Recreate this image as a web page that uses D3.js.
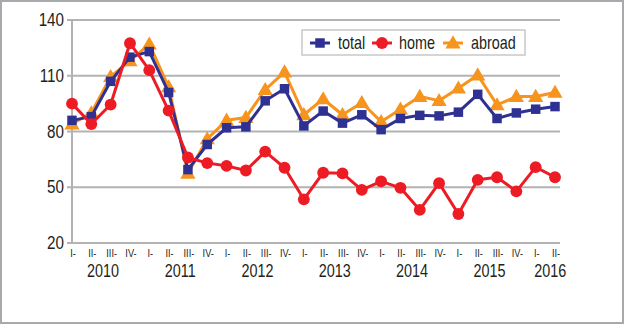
<!DOCTYPE html>
<html>
<head>
<meta charset="utf-8">
<script src="https://cdn.jsdelivr.net/npm/d3@7"></script>
<style>
  html, body { margin: 0; padding: 0; background: #fff; }
  svg { display: block; }
  text { font-family: "Liberation Sans", Arial, sans-serif; fill: #231f20; }
</style>
</head>
<body>
<svg id="chart" width="625" height="325"></svg>
<script>
// Quarterly index, 2010 Q1 – 2016 Q2
const quarters = ["I-","II-","III-","IV-","I-","II-","III-","IV-","I-","II-","III-","IV-","I-","II-","III-","IV-","I-","II-","III-","IV-","I-","II-","III-","IV-","I-","II-"];
const years = ["2010","2011","2012","2013","2014","2015","2016"];
const yTicks = [20, 50, 80, 110, 140];

const total  = [86, 88, 107, 120, 123, 101, 59.5, 73, 82, 82.5, 96.5, 103, 83, 91, 84.5, 89, 81, 87, 88.7, 88.4, 90.4, 100, 87, 90, 92, 93.4];
const home   = [95, 84, 94.5, 127.5, 113, 91.2, 66, 63, 61.5, 59, 69.2, 60.5, 43.5, 57.8, 57.5, 48.6, 53.2, 49.7, 37.8, 52.2, 35.6, 54, 55.4, 47.8, 60.8, 55.4];
const abroad = [84, 90, 109.5, 118, 127, 104, 57.5, 76, 86, 87.5, 102.5, 112, 89, 97.5, 89, 95.5, 85.3, 92, 98.8, 96.6, 103.3, 110.4, 94.3, 98.8, 98.8, 101];

const seriesNames = ["total", "home", "abroad"];
const seriesData = [total, home, abroad];
const colors = ["#2e3192", "#ed1c24", "#f7941d"];
const markers = [d3.symbolSquare, d3.symbolCircle, d3.symbolTriangle];
const markerSizes = [90, 110, 100];

const svg = d3.select("#chart");

// condensed text: horizontally squeezed glyphs
const SQ = 0.8;
function label(parent, tx, ty, str, size, anchor) {
  return parent.append("text")
    .attr("transform", `translate(${tx},${ty}) scale(${SQ},1)`)
    .attr("text-anchor", anchor || "start")
    .attr("font-size", size)
    .text(str);
}

// outer frame
svg.append("rect")
  .attr("x", 1).attr("y", 1).attr("width", 622).attr("height", 322)
  .attr("fill", "none").attr("stroke", "#a7a9ac").attr("stroke-width", 2);

const x = d3.scalePoint().domain(d3.range(quarters.length)).range([72, 555]);
const y = d3.scaleLinear().domain([20, 140]).range([243, 20]);
const xEnd = 560;

// horizontal gridlines
svg.append("g").selectAll("line").data(yTicks).join("line")
  .attr("x1", 67).attr("x2", xEnd)
  .attr("y1", d => y(d)).attr("y2", d => y(d))
  .attr("stroke", "#b3b3b3").attr("stroke-width", 2);

// y axis line
svg.append("line")
  .attr("x1", 72).attr("x2", 72).attr("y1", y(140)).attr("y2", y(20))
  .attr("stroke", "#b3b3b3").attr("stroke-width", 2);

// y tick labels
const gy = svg.append("g");
yTicks.forEach(t => label(gy, 64, y(t) + 6, t, 19, "end"));

// quarter labels
const gq = svg.append("g");
quarters.forEach((q, i) => label(gq, x(i) + 1, 257, q, 11.5, "middle"));

// year labels, centred under quarters II/III of each year
const gyr = svg.append("g");
years.forEach((yr, i) => {
  const start = i * 4;
  const cx = start + 3 < quarters.length
    ? (x(start + 1) + x(start + 2)) / 2 + 2
    : (x(start) + x(start + 1)) / 2 + 5;
  label(gyr, cx, 277, yr, 18, "middle");
});

const line = d3.line().x((d, i) => x(i)).y(d => y(d));

// draw order: abroad, total, home (home on top)
const order = [2, 0, 1];
order.forEach(k => {
  const g = svg.append("g");
  g.append("path")
    .datum(seriesData[k])
    .attr("d", line)
    .attr("fill", "none")
    .attr("stroke", colors[k])
    .attr("stroke-width", 3)
    .attr("stroke-linejoin", "round");
  g.selectAll("path.m").data(seriesData[k]).join("path")
    .attr("class", "m")
    .attr("transform", (d, i) => `translate(${x(i)},${y(d) + (k === 2 ? 1 : 0)})`)
    .attr("d", d3.symbol().type(markers[k]).size(markerSizes[k]))
    .attr("fill", colors[k]);
});

// legend
const lg = svg.append("g");
lg.append("rect")
  .attr("x", 302).attr("y", 30).attr("width", 223).attr("height", 25)
  .attr("fill", "#fff").attr("stroke", "#c8c8c8").attr("stroke-width", 1.5);
const legendPos = [{ lx: 310, tx: 338 }, { lx: 372, tx: 399 }, { lx: 443, tx: 471 }];
seriesNames.forEach((name, k) => {
  const p = legendPos[k];
  lg.append("line")
    .attr("x1", p.lx).attr("x2", p.lx + 20).attr("y1", 43).attr("y2", 43)
    .attr("stroke", colors[k]).attr("stroke-width", 3);
  lg.append("path")
    .attr("transform", `translate(${p.lx + 10},${43 + (k === 2 ? 1 : 0)})`)
    .attr("d", d3.symbol().type(markers[k]).size(markerSizes[k]))
    .attr("fill", colors[k]);
  label(lg, p.tx, 49, name, 18);
});
</script>
</body>
</html>
